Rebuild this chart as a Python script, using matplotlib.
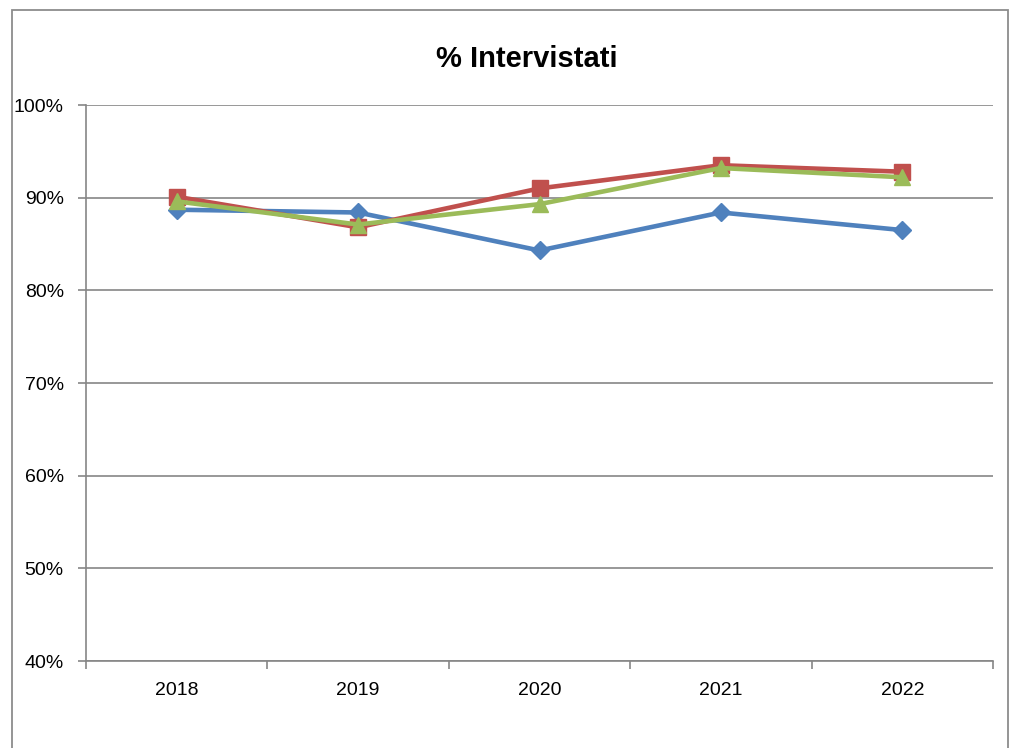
import matplotlib
matplotlib.use("Agg")
import matplotlib.pyplot as plt
from matplotlib.patches import Rectangle
from matplotlib.ticker import FuncFormatter, FixedLocator

categories = ["2018", "2019", "2020", "2021", "2022"]
series_blue = [88.7, 88.4, 84.3, 88.4, 86.5]
series_red = [90.1, 86.8, 91.0, 93.5, 92.8]
series_green = [89.6, 87.1, 89.3, 93.2, 92.2]
title = "% Intervistati"

plt.rcParams['font.family'] = ['Liberation Sans', 'DejaVu Sans']

fig = plt.figure(figsize=(10.10, 7.48), dpi=100)
fig.patch.set_facecolor("white")

# chart-area border
fig.add_artist(Rectangle((12/1010, -0.05), (1008-12)/1010, (748-10)/748 + 0.05,
                         transform=fig.transFigure, fill=False,
                         edgecolor="#8c8c8c", linewidth=1.3))

ax = fig.add_axes([86/1010, (748-661)/748, (993-86)/1010, (661-105)/748])
x = list(range(len(categories)))

ax.plot(x, series_blue, color="#4F81BD", linewidth=3.3, marker="D", markersize=9.5,
        zorder=3)
ax.plot(x, series_red, color="#C0504D", linewidth=3.3, marker="s", markersize=11,
        zorder=4)
ax.plot(x, series_green, color="#9BBB59", linewidth=3.3, marker="^", markersize=11,
        zorder=5)

ax.set_xlim(-0.5, len(categories) - 0.5)
ax.set_ylim(40, 100)
ax.set_yticks([40, 50, 60, 70, 80, 90, 100])
ax.yaxis.set_major_formatter(FuncFormatter(lambda v, p: f"{int(round(v))}%"))
ax.set_xticks(x)
ax.set_xticklabels(categories)
ax.xaxis.set_minor_locator(FixedLocator([i - 0.5 for i in range(len(categories) + 1)]))
ax.tick_params(axis="x", which="major", length=0, pad=15, labelsize=14)
ax.tick_params(axis="x", which="minor", length=6, color="#868686", width=1.2)
ax.tick_params(axis="y", length=6, color="#868686", width=1.2, pad=10, labelsize=14)

ax.grid(axis="y", color="#868686", linewidth=1.2)
ax.set_axisbelow(True)
for s in ["top", "right"]:
    ax.spines[s].set_visible(False)
for s in ["left", "bottom"]:
    ax.spines[s].set_color("#868686")
    ax.spines[s].set_linewidth(1.2)

fig.text(527/1010, 1 - 59/748, title, ha="center", va="center",
         fontsize=21, fontweight="bold")

fig.savefig("out.png", dpi=100, facecolor="white")
